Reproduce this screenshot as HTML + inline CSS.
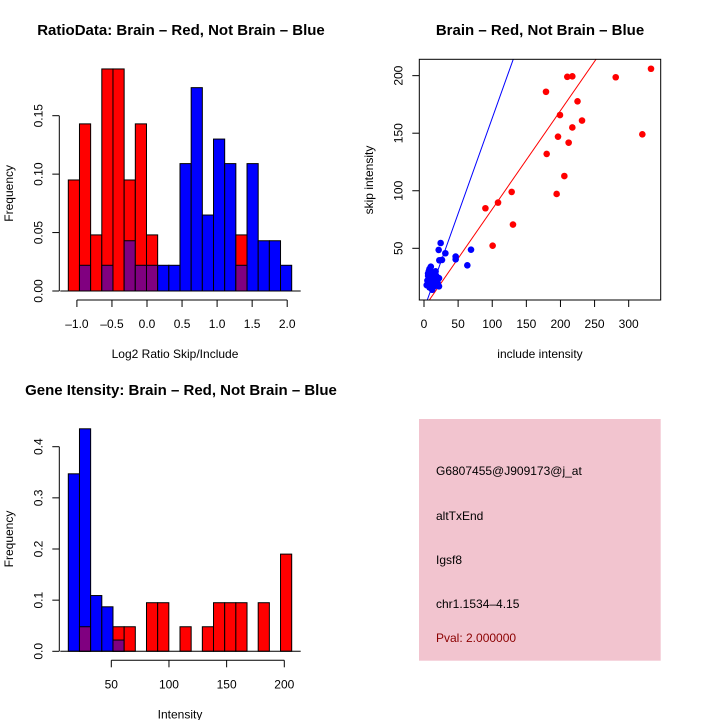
<!DOCTYPE html>
<html><head><meta charset="utf-8"><style>
html,body{margin:0;padding:0;background:#fff}
svg{display:block;font-family:"Liberation Sans",sans-serif}
</style></head><body>
<svg id="c" width="720" height="720">
<rect width="720" height="720" fill="#fff"/>
</svg>
<script>
// ---- top-left histogram data ----
const ratioRed = [0.095,0.143,0.048,0.190,0.190,0.095,0.143,0.048,0,0,0,0,0,0,0,0.048,0,0,0,0];
const ratioBlue = [0,0.022,0,0.022,0,0.043,0.022,0.022,0.022,0.022,0.109,0.174,0.065,0.130,0.109,0.022,0.109,0.043,0.043,0.022];
const ratioXTicks = [-1.0,-0.5,0.0,0.5,1.0,1.5,2.0];
const ratioYTicks = [0,0.05,0.10,0.15];
const ratioYLabels = ["0.00","0.05","0.10","0.15"];
// ---- scatter data ----
const redPts = [[332.7,206],[210,199],[217.4,199.4],[281,198.6],[178.8,186],[225,177.7],[199.3,165.8],[231.6,161],[217.4,155],[196.4,147],[320,149],[212,141.8],[179.8,132],[205.7,112.8],[194.4,97.2],[128.5,99],[108.5,89.7],[90,84.8],[130.4,70.6],[100.6,52.3]];
const bluePts = [[24.4,54.6],[21.5,48.6],[68.9,48.8],[31.3,45.7],[46.4,42.8],[46.4,40.4],[22.5,39.6],[26.4,39.9],[63.5,35.2],[8,32],[10,30],[12,28],[6,26],[9,24],[14,26],[16,22],[5,22],[7,20],[11,19],[13,18],[20,20],[18,26],[4,18],[8,16],[12,14],[15,17],[22,24],[10,34],[17,30],[6,28],[9,21],[13,23],[22,17],[7,30],[11,25],[16,28]];
const blueLine = [-2.9,1.66];
const redLine = [-1.6,0.856];
const scXTicks = [0,50,100,150,200,250,300];
const scYTicks = [50,100,150,200];
// ---- bottom histogram data ----
const intRed = [0,0.048,0,0,0.048,0.048,0,0.095,0.095,0,0.048,0,0.048,0.095,0.095,0.095,0,0.095,0,0.190];
const intBlue = [0.347,0.435,0.109,0.087,0.022,0,0,0,0,0,0,0,0,0,0,0,0,0,0,0];
const intXTicks = [50,100,150,200];
const intYTicks = [0,0.1,0.2,0.3,0.4];
const intYLabels = ["0.0","0.1","0.2","0.3","0.4"];

const NS="http://www.w3.org/2000/svg";
const svg=document.getElementById('c');
function mk(tag,attrs,parent){const e=document.createElementNS(NS,tag);for(const k in attrs)e.setAttribute(k,attrs[k]);(parent||svg).appendChild(e);return e;}
function txt(s,x,y,size,anchor,parent,extra){const t=mk('text',Object.assign({x:x,y:y,'font-size':size,'text-anchor':anchor||'middle',fill:'#000'},extra||{}),parent);t.textContent=s;return t;}

function histogram(name,red,blue,x0,binW,baseY,yScale,title,titleX,titleY,xlab,xlabX,xTicks,xTickLabel,xMap,yTicks,yLabels,axisX0,axisX1){
  const g=mk('g',{});
  
  
  const t=txt(title,titleX,titleY,15,'middle',g,{'font-weight':'bold'});
  
  
  for(let i=0;i<red.length;i++){
    const bx=x0+i*binW;
    const r=red[i],b=blue[i];
    const hi=Math.max(r,b),lo=Math.min(r,b);
    if(hi>0){
      const el=mk('rect',{x:bx,y:baseY-hi*yScale,width:binW,height:hi*yScale,fill:r>=b?'#ff0000':'#0000ff',stroke:'#000','stroke-width':1},g);
      
      
    }
    if(lo>0){
      const el=mk('rect',{x:bx,y:baseY-lo*yScale,width:binW,height:lo*yScale,fill:'#800080',stroke:'#000','stroke-width':1},g);
      
      
    }
  }
  mk('line',{x1:x0-8,x2:x0+binW*red.length+9,y1:baseY,y2:baseY,stroke:'#000'},g);
  const xa=mk('g',{},g);
  
  
  const axY=baseY+9;
  mk('line',{x1:xMap(axisX0),x2:xMap(axisX1),y1:axY,y2:axY,stroke:'#000'},xa);
  xTicks.forEach(v=>{const x=xMap(v);mk('line',{x1:x,x2:x,y1:axY,y2:axY+7,stroke:'#000'},xa);txt(xTickLabel(v),x,axY+28,12,'middle',xa);});
  const xl=txt(xlab,xlabX,axY+58,12,'middle',g);
  
  
  const ya=mk('g',{},g);
  
  
  const ax=59.3;
  mk('line',{x1:ax,x2:ax,y1:baseY,y2:baseY-yTicks[yTicks.length-1]*yScale,stroke:'#000'},ya);
  yTicks.forEach((v,i)=>{const y=baseY-v*yScale;mk('line',{x1:ax-7,x2:ax,y1:y,y2:y,stroke:'#000'},ya);
    txt(yLabels[i],ax-17,y,12,'middle',ya,{transform:'rotate(-90 '+(ax-17)+' '+y+')'});});
  const cy=(2*baseY-yTicks[yTicks.length-1]*yScale)/2-10;
  const yl=txt('Frequency',13,cy,12,'middle',g,{transform:'rotate(-90 13 '+cy+')'});
  
  
}
const binW=11.17;
const rX=v=>147+70.1*v;
histogram('ratio-histogram',ratioRed,ratioBlue,68.3,binW,291,1168.7,'RatioData: Brain – Red, Not Brain – Blue',181,35,'Log2 Ratio Skip/Include',175,ratioXTicks,v=>v.toFixed(1).replace('-','–'),rX,ratioYTicks,ratioYLabels,-1,2);
const iX=v=>111.3+(v-50)*1.1533;
histogram('intensity-histogram',intRed,intBlue,68.3,binW,651.3,511.5,'Gene Itensity: Brain – Red, Not Brain – Blue',181,395,'Intensity',180,intXTicks,v=>String(v),iX,intYTicks,intYLabels,50,200);

// ---- scatter ----
(function(){
  const g=mk('g',{});
  
  
  const L=419.3,R=660.7,T=59.3,B=300;
  const sx=v=>424+v*0.6823, sy=v=>248.3-(v-50)*1.151;
  const t=txt('Brain – Red, Not Brain – Blue',540,35,15,'middle',g,{'font-weight':'bold'});
  
  
  const cp=mk('clipPath',{id:'scclip'},g);mk('rect',{x:L,y:T,width:R-L,height:B-T},cp);
  const inner=mk('g',{'clip-path':'url(#scclip)'},g);
  [[blueLine,'#0000ff','blue-fit-line'],[redLine,'#ff0000','red-fit-line']].forEach(([ln,col,nm])=>{
    const x1=-20,x2=400;
    const l=mk('line',{x1:sx(x1),y1:sy(ln[0]+ln[1]*x1),x2:sx(x2),y2:sy(ln[0]+ln[1]*x2),stroke:col,'stroke-width':1},inner);
    
    
  });
  redPts.forEach(p=>{const c=mk('circle',{cx:sx(p[0]),cy:sy(p[1]),r:3.3,fill:'#ff0000'},inner);
    
    });
  bluePts.forEach(p=>{const c=mk('circle',{cx:sx(p[0]),cy:sy(p[1]),r:3.3,fill:'#0000ff'},inner);
    
    });
  mk('rect',{x:L,y:T,width:R-L,height:B-T,fill:'none',stroke:'#000'},g);
  const xa=mk('g',{},g);
  
  
  scXTicks.forEach(v=>{const x=sx(v);mk('line',{x1:x,x2:x,y1:B,y2:B+7,stroke:'#000'},xa);txt(String(v),x,B+28,12,'middle',xa);});
  const xl=txt('include intensity',540,358,12,'middle',g);
  
  
  const ya=mk('g',{},g);
  
  
  scYTicks.forEach(v=>{const y=sy(v);mk('line',{x1:L-7,x2:L,y1:y,y2:y,stroke:'#000'},ya);txt(String(v),L-17,y,12,'middle',ya,{transform:'rotate(-90 '+(L-17)+' '+y+')'});});
  const yl=txt('skip intensity',373,180,12,'middle',g,{transform:'rotate(-90 373 180)'});
  
  
})();

// ---- info panel ----
(function(){
  const g=mk('g',{});
  
  
  mk('rect',{x:419,y:419,width:241.7,height:241.7,fill:'#f2c4cf'},g);
  const lines=[['G6807455@J909173@j_at',475,'#000','gene-id'],['altTxEnd',520,'#000','event-type'],['Igsf8',564,'#000','gene-name'],['chr1.1534–4.15',608,'#000','location'],['Pval: 2.000000',642,'#8b0000','p-value']];
  lines.forEach(l=>{const t=txt(l[0],436,l[1],12,'start',g,{fill:l[2]});
    
    });
})();
</script>
</body></html>
